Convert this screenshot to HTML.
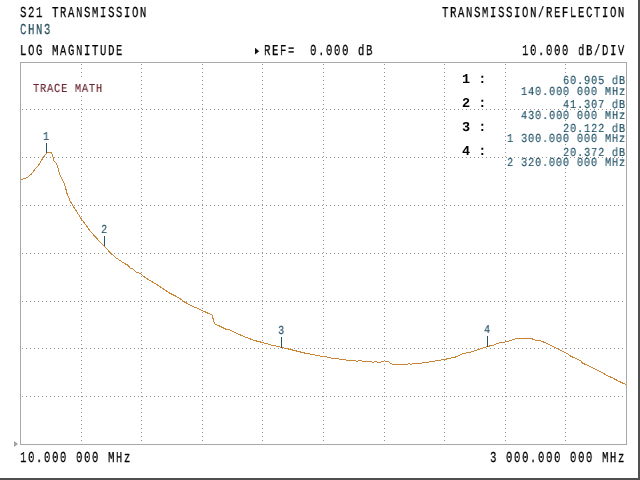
<!DOCTYPE html>
<html><head><meta charset="utf-8"><style>
html,body{margin:0;padding:0;background:#fff;width:640px;height:480px;overflow:hidden;position:relative}
.b,.s,.m{position:absolute;will-change:transform;white-space:pre;font-family:"Liberation Mono",monospace;line-height:1;text-rendering:geometricPrecision}
.b{font-size:15.2px;letter-spacing:2.31px;-webkit-text-stroke:0.25px currentColor;transform-origin:0 0;transform:scaleX(0.7);margin-top:-1px}
.s{font-size:12.2px;letter-spacing:0.915px;-webkit-text-stroke:0.15px currentColor;transform-origin:0 0;transform:scaleX(0.85);margin-top:-1px;margin-left:-1px}
.m{font-size:13.5px;font-weight:bold;color:#000}
svg{position:absolute;left:0;top:0}
</style></head><body>
<svg width="640" height="480" viewBox="0 0 640 480">
<rect x="20.5" y="62.5" width="606" height="382" fill="none" stroke="#a8a8a8" stroke-width="1" shape-rendering="crispEdges"/>
<path d="M81 64h1v1h-1zM81 68h1v1h-1zM81 72h1v1h-1zM81 76h1v1h-1zM81 80h1v1h-1zM81 84h1v1h-1zM81 88h1v1h-1zM81 92h1v1h-1zM81 96h1v1h-1zM81 100h1v1h-1zM81 104h1v1h-1zM81 108h1v1h-1zM81 112h1v1h-1zM81 116h1v1h-1zM81 120h1v1h-1zM81 124h1v1h-1zM81 128h1v1h-1zM81 132h1v1h-1zM81 136h1v1h-1zM81 140h1v1h-1zM81 144h1v1h-1zM81 148h1v1h-1zM81 152h1v1h-1zM81 156h1v1h-1zM81 160h1v1h-1zM81 164h1v1h-1zM81 168h1v1h-1zM81 172h1v1h-1zM81 176h1v1h-1zM81 180h1v1h-1zM81 184h1v1h-1zM81 188h1v1h-1zM81 192h1v1h-1zM81 196h1v1h-1zM81 200h1v1h-1zM81 204h1v1h-1zM81 208h1v1h-1zM81 212h1v1h-1zM81 216h1v1h-1zM81 220h1v1h-1zM81 224h1v1h-1zM81 228h1v1h-1zM81 232h1v1h-1zM81 236h1v1h-1zM81 240h1v1h-1zM81 244h1v1h-1zM81 248h1v1h-1zM81 252h1v1h-1zM81 256h1v1h-1zM81 260h1v1h-1zM81 264h1v1h-1zM81 268h1v1h-1zM81 272h1v1h-1zM81 276h1v1h-1zM81 280h1v1h-1zM81 284h1v1h-1zM81 288h1v1h-1zM81 292h1v1h-1zM81 296h1v1h-1zM81 300h1v1h-1zM81 304h1v1h-1zM81 308h1v1h-1zM81 312h1v1h-1zM81 316h1v1h-1zM81 320h1v1h-1zM81 324h1v1h-1zM81 328h1v1h-1zM81 332h1v1h-1zM81 336h1v1h-1zM81 340h1v1h-1zM81 344h1v1h-1zM81 348h1v1h-1zM81 352h1v1h-1zM81 356h1v1h-1zM81 360h1v1h-1zM81 364h1v1h-1zM81 368h1v1h-1zM81 372h1v1h-1zM81 376h1v1h-1zM81 380h1v1h-1zM81 384h1v1h-1zM81 388h1v1h-1zM81 392h1v1h-1zM81 396h1v1h-1zM81 400h1v1h-1zM81 404h1v1h-1zM81 408h1v1h-1zM81 412h1v1h-1zM81 416h1v1h-1zM81 420h1v1h-1zM81 424h1v1h-1zM81 428h1v1h-1zM81 432h1v1h-1zM81 436h1v1h-1zM81 440h1v1h-1zM141 64h1v1h-1zM141 68h1v1h-1zM141 72h1v1h-1zM141 76h1v1h-1zM141 80h1v1h-1zM141 84h1v1h-1zM141 88h1v1h-1zM141 92h1v1h-1zM141 96h1v1h-1zM141 100h1v1h-1zM141 104h1v1h-1zM141 108h1v1h-1zM141 112h1v1h-1zM141 116h1v1h-1zM141 120h1v1h-1zM141 124h1v1h-1zM141 128h1v1h-1zM141 132h1v1h-1zM141 136h1v1h-1zM141 140h1v1h-1zM141 144h1v1h-1zM141 148h1v1h-1zM141 152h1v1h-1zM141 156h1v1h-1zM141 160h1v1h-1zM141 164h1v1h-1zM141 168h1v1h-1zM141 172h1v1h-1zM141 176h1v1h-1zM141 180h1v1h-1zM141 184h1v1h-1zM141 188h1v1h-1zM141 192h1v1h-1zM141 196h1v1h-1zM141 200h1v1h-1zM141 204h1v1h-1zM141 208h1v1h-1zM141 212h1v1h-1zM141 216h1v1h-1zM141 220h1v1h-1zM141 224h1v1h-1zM141 228h1v1h-1zM141 232h1v1h-1zM141 236h1v1h-1zM141 240h1v1h-1zM141 244h1v1h-1zM141 248h1v1h-1zM141 252h1v1h-1zM141 256h1v1h-1zM141 260h1v1h-1zM141 264h1v1h-1zM141 268h1v1h-1zM141 272h1v1h-1zM141 276h1v1h-1zM141 280h1v1h-1zM141 284h1v1h-1zM141 288h1v1h-1zM141 292h1v1h-1zM141 296h1v1h-1zM141 300h1v1h-1zM141 304h1v1h-1zM141 308h1v1h-1zM141 312h1v1h-1zM141 316h1v1h-1zM141 320h1v1h-1zM141 324h1v1h-1zM141 328h1v1h-1zM141 332h1v1h-1zM141 336h1v1h-1zM141 340h1v1h-1zM141 344h1v1h-1zM141 348h1v1h-1zM141 352h1v1h-1zM141 356h1v1h-1zM141 360h1v1h-1zM141 364h1v1h-1zM141 368h1v1h-1zM141 372h1v1h-1zM141 376h1v1h-1zM141 380h1v1h-1zM141 384h1v1h-1zM141 388h1v1h-1zM141 392h1v1h-1zM141 396h1v1h-1zM141 400h1v1h-1zM141 404h1v1h-1zM141 408h1v1h-1zM141 412h1v1h-1zM141 416h1v1h-1zM141 420h1v1h-1zM141 424h1v1h-1zM141 428h1v1h-1zM141 432h1v1h-1zM141 436h1v1h-1zM141 440h1v1h-1zM202 64h1v1h-1zM202 68h1v1h-1zM202 72h1v1h-1zM202 76h1v1h-1zM202 80h1v1h-1zM202 84h1v1h-1zM202 88h1v1h-1zM202 92h1v1h-1zM202 96h1v1h-1zM202 100h1v1h-1zM202 104h1v1h-1zM202 108h1v1h-1zM202 112h1v1h-1zM202 116h1v1h-1zM202 120h1v1h-1zM202 124h1v1h-1zM202 128h1v1h-1zM202 132h1v1h-1zM202 136h1v1h-1zM202 140h1v1h-1zM202 144h1v1h-1zM202 148h1v1h-1zM202 152h1v1h-1zM202 156h1v1h-1zM202 160h1v1h-1zM202 164h1v1h-1zM202 168h1v1h-1zM202 172h1v1h-1zM202 176h1v1h-1zM202 180h1v1h-1zM202 184h1v1h-1zM202 188h1v1h-1zM202 192h1v1h-1zM202 196h1v1h-1zM202 200h1v1h-1zM202 204h1v1h-1zM202 208h1v1h-1zM202 212h1v1h-1zM202 216h1v1h-1zM202 220h1v1h-1zM202 224h1v1h-1zM202 228h1v1h-1zM202 232h1v1h-1zM202 236h1v1h-1zM202 240h1v1h-1zM202 244h1v1h-1zM202 248h1v1h-1zM202 252h1v1h-1zM202 256h1v1h-1zM202 260h1v1h-1zM202 264h1v1h-1zM202 268h1v1h-1zM202 272h1v1h-1zM202 276h1v1h-1zM202 280h1v1h-1zM202 284h1v1h-1zM202 288h1v1h-1zM202 292h1v1h-1zM202 296h1v1h-1zM202 300h1v1h-1zM202 304h1v1h-1zM202 308h1v1h-1zM202 312h1v1h-1zM202 316h1v1h-1zM202 320h1v1h-1zM202 324h1v1h-1zM202 328h1v1h-1zM202 332h1v1h-1zM202 336h1v1h-1zM202 340h1v1h-1zM202 344h1v1h-1zM202 348h1v1h-1zM202 352h1v1h-1zM202 356h1v1h-1zM202 360h1v1h-1zM202 364h1v1h-1zM202 368h1v1h-1zM202 372h1v1h-1zM202 376h1v1h-1zM202 380h1v1h-1zM202 384h1v1h-1zM202 388h1v1h-1zM202 392h1v1h-1zM202 396h1v1h-1zM202 400h1v1h-1zM202 404h1v1h-1zM202 408h1v1h-1zM202 412h1v1h-1zM202 416h1v1h-1zM202 420h1v1h-1zM202 424h1v1h-1zM202 428h1v1h-1zM202 432h1v1h-1zM202 436h1v1h-1zM202 440h1v1h-1zM262 64h1v1h-1zM262 68h1v1h-1zM262 72h1v1h-1zM262 76h1v1h-1zM262 80h1v1h-1zM262 84h1v1h-1zM262 88h1v1h-1zM262 92h1v1h-1zM262 96h1v1h-1zM262 100h1v1h-1zM262 104h1v1h-1zM262 108h1v1h-1zM262 112h1v1h-1zM262 116h1v1h-1zM262 120h1v1h-1zM262 124h1v1h-1zM262 128h1v1h-1zM262 132h1v1h-1zM262 136h1v1h-1zM262 140h1v1h-1zM262 144h1v1h-1zM262 148h1v1h-1zM262 152h1v1h-1zM262 156h1v1h-1zM262 160h1v1h-1zM262 164h1v1h-1zM262 168h1v1h-1zM262 172h1v1h-1zM262 176h1v1h-1zM262 180h1v1h-1zM262 184h1v1h-1zM262 188h1v1h-1zM262 192h1v1h-1zM262 196h1v1h-1zM262 200h1v1h-1zM262 204h1v1h-1zM262 208h1v1h-1zM262 212h1v1h-1zM262 216h1v1h-1zM262 220h1v1h-1zM262 224h1v1h-1zM262 228h1v1h-1zM262 232h1v1h-1zM262 236h1v1h-1zM262 240h1v1h-1zM262 244h1v1h-1zM262 248h1v1h-1zM262 252h1v1h-1zM262 256h1v1h-1zM262 260h1v1h-1zM262 264h1v1h-1zM262 268h1v1h-1zM262 272h1v1h-1zM262 276h1v1h-1zM262 280h1v1h-1zM262 284h1v1h-1zM262 288h1v1h-1zM262 292h1v1h-1zM262 296h1v1h-1zM262 300h1v1h-1zM262 304h1v1h-1zM262 308h1v1h-1zM262 312h1v1h-1zM262 316h1v1h-1zM262 320h1v1h-1zM262 324h1v1h-1zM262 328h1v1h-1zM262 332h1v1h-1zM262 336h1v1h-1zM262 340h1v1h-1zM262 344h1v1h-1zM262 348h1v1h-1zM262 352h1v1h-1zM262 356h1v1h-1zM262 360h1v1h-1zM262 364h1v1h-1zM262 368h1v1h-1zM262 372h1v1h-1zM262 376h1v1h-1zM262 380h1v1h-1zM262 384h1v1h-1zM262 388h1v1h-1zM262 392h1v1h-1zM262 396h1v1h-1zM262 400h1v1h-1zM262 404h1v1h-1zM262 408h1v1h-1zM262 412h1v1h-1zM262 416h1v1h-1zM262 420h1v1h-1zM262 424h1v1h-1zM262 428h1v1h-1zM262 432h1v1h-1zM262 436h1v1h-1zM262 440h1v1h-1zM323 64h1v1h-1zM323 68h1v1h-1zM323 72h1v1h-1zM323 76h1v1h-1zM323 80h1v1h-1zM323 84h1v1h-1zM323 88h1v1h-1zM323 92h1v1h-1zM323 96h1v1h-1zM323 100h1v1h-1zM323 104h1v1h-1zM323 108h1v1h-1zM323 112h1v1h-1zM323 116h1v1h-1zM323 120h1v1h-1zM323 124h1v1h-1zM323 128h1v1h-1zM323 132h1v1h-1zM323 136h1v1h-1zM323 140h1v1h-1zM323 144h1v1h-1zM323 148h1v1h-1zM323 152h1v1h-1zM323 156h1v1h-1zM323 160h1v1h-1zM323 164h1v1h-1zM323 168h1v1h-1zM323 172h1v1h-1zM323 176h1v1h-1zM323 180h1v1h-1zM323 184h1v1h-1zM323 188h1v1h-1zM323 192h1v1h-1zM323 196h1v1h-1zM323 200h1v1h-1zM323 204h1v1h-1zM323 208h1v1h-1zM323 212h1v1h-1zM323 216h1v1h-1zM323 220h1v1h-1zM323 224h1v1h-1zM323 228h1v1h-1zM323 232h1v1h-1zM323 236h1v1h-1zM323 240h1v1h-1zM323 244h1v1h-1zM323 248h1v1h-1zM323 252h1v1h-1zM323 256h1v1h-1zM323 260h1v1h-1zM323 264h1v1h-1zM323 268h1v1h-1zM323 272h1v1h-1zM323 276h1v1h-1zM323 280h1v1h-1zM323 284h1v1h-1zM323 288h1v1h-1zM323 292h1v1h-1zM323 296h1v1h-1zM323 300h1v1h-1zM323 304h1v1h-1zM323 308h1v1h-1zM323 312h1v1h-1zM323 316h1v1h-1zM323 320h1v1h-1zM323 324h1v1h-1zM323 328h1v1h-1zM323 332h1v1h-1zM323 336h1v1h-1zM323 340h1v1h-1zM323 344h1v1h-1zM323 348h1v1h-1zM323 352h1v1h-1zM323 356h1v1h-1zM323 360h1v1h-1zM323 364h1v1h-1zM323 368h1v1h-1zM323 372h1v1h-1zM323 376h1v1h-1zM323 380h1v1h-1zM323 384h1v1h-1zM323 388h1v1h-1zM323 392h1v1h-1zM323 396h1v1h-1zM323 400h1v1h-1zM323 404h1v1h-1zM323 408h1v1h-1zM323 412h1v1h-1zM323 416h1v1h-1zM323 420h1v1h-1zM323 424h1v1h-1zM323 428h1v1h-1zM323 432h1v1h-1zM323 436h1v1h-1zM323 440h1v1h-1zM384 64h1v1h-1zM384 68h1v1h-1zM384 72h1v1h-1zM384 76h1v1h-1zM384 80h1v1h-1zM384 84h1v1h-1zM384 88h1v1h-1zM384 92h1v1h-1zM384 96h1v1h-1zM384 100h1v1h-1zM384 104h1v1h-1zM384 108h1v1h-1zM384 112h1v1h-1zM384 116h1v1h-1zM384 120h1v1h-1zM384 124h1v1h-1zM384 128h1v1h-1zM384 132h1v1h-1zM384 136h1v1h-1zM384 140h1v1h-1zM384 144h1v1h-1zM384 148h1v1h-1zM384 152h1v1h-1zM384 156h1v1h-1zM384 160h1v1h-1zM384 164h1v1h-1zM384 168h1v1h-1zM384 172h1v1h-1zM384 176h1v1h-1zM384 180h1v1h-1zM384 184h1v1h-1zM384 188h1v1h-1zM384 192h1v1h-1zM384 196h1v1h-1zM384 200h1v1h-1zM384 204h1v1h-1zM384 208h1v1h-1zM384 212h1v1h-1zM384 216h1v1h-1zM384 220h1v1h-1zM384 224h1v1h-1zM384 228h1v1h-1zM384 232h1v1h-1zM384 236h1v1h-1zM384 240h1v1h-1zM384 244h1v1h-1zM384 248h1v1h-1zM384 252h1v1h-1zM384 256h1v1h-1zM384 260h1v1h-1zM384 264h1v1h-1zM384 268h1v1h-1zM384 272h1v1h-1zM384 276h1v1h-1zM384 280h1v1h-1zM384 284h1v1h-1zM384 288h1v1h-1zM384 292h1v1h-1zM384 296h1v1h-1zM384 300h1v1h-1zM384 304h1v1h-1zM384 308h1v1h-1zM384 312h1v1h-1zM384 316h1v1h-1zM384 320h1v1h-1zM384 324h1v1h-1zM384 328h1v1h-1zM384 332h1v1h-1zM384 336h1v1h-1zM384 340h1v1h-1zM384 344h1v1h-1zM384 348h1v1h-1zM384 352h1v1h-1zM384 356h1v1h-1zM384 360h1v1h-1zM384 364h1v1h-1zM384 368h1v1h-1zM384 372h1v1h-1zM384 376h1v1h-1zM384 380h1v1h-1zM384 384h1v1h-1zM384 388h1v1h-1zM384 392h1v1h-1zM384 396h1v1h-1zM384 400h1v1h-1zM384 404h1v1h-1zM384 408h1v1h-1zM384 412h1v1h-1zM384 416h1v1h-1zM384 420h1v1h-1zM384 424h1v1h-1zM384 428h1v1h-1zM384 432h1v1h-1zM384 436h1v1h-1zM384 440h1v1h-1zM444 64h1v1h-1zM444 68h1v1h-1zM444 72h1v1h-1zM444 76h1v1h-1zM444 80h1v1h-1zM444 84h1v1h-1zM444 88h1v1h-1zM444 92h1v1h-1zM444 96h1v1h-1zM444 100h1v1h-1zM444 104h1v1h-1zM444 108h1v1h-1zM444 112h1v1h-1zM444 116h1v1h-1zM444 120h1v1h-1zM444 124h1v1h-1zM444 128h1v1h-1zM444 132h1v1h-1zM444 136h1v1h-1zM444 140h1v1h-1zM444 144h1v1h-1zM444 148h1v1h-1zM444 152h1v1h-1zM444 156h1v1h-1zM444 160h1v1h-1zM444 164h1v1h-1zM444 168h1v1h-1zM444 172h1v1h-1zM444 176h1v1h-1zM444 180h1v1h-1zM444 184h1v1h-1zM444 188h1v1h-1zM444 192h1v1h-1zM444 196h1v1h-1zM444 200h1v1h-1zM444 204h1v1h-1zM444 208h1v1h-1zM444 212h1v1h-1zM444 216h1v1h-1zM444 220h1v1h-1zM444 224h1v1h-1zM444 228h1v1h-1zM444 232h1v1h-1zM444 236h1v1h-1zM444 240h1v1h-1zM444 244h1v1h-1zM444 248h1v1h-1zM444 252h1v1h-1zM444 256h1v1h-1zM444 260h1v1h-1zM444 264h1v1h-1zM444 268h1v1h-1zM444 272h1v1h-1zM444 276h1v1h-1zM444 280h1v1h-1zM444 284h1v1h-1zM444 288h1v1h-1zM444 292h1v1h-1zM444 296h1v1h-1zM444 300h1v1h-1zM444 304h1v1h-1zM444 308h1v1h-1zM444 312h1v1h-1zM444 316h1v1h-1zM444 320h1v1h-1zM444 324h1v1h-1zM444 328h1v1h-1zM444 332h1v1h-1zM444 336h1v1h-1zM444 340h1v1h-1zM444 344h1v1h-1zM444 348h1v1h-1zM444 352h1v1h-1zM444 356h1v1h-1zM444 360h1v1h-1zM444 364h1v1h-1zM444 368h1v1h-1zM444 372h1v1h-1zM444 376h1v1h-1zM444 380h1v1h-1zM444 384h1v1h-1zM444 388h1v1h-1zM444 392h1v1h-1zM444 396h1v1h-1zM444 400h1v1h-1zM444 404h1v1h-1zM444 408h1v1h-1zM444 412h1v1h-1zM444 416h1v1h-1zM444 420h1v1h-1zM444 424h1v1h-1zM444 428h1v1h-1zM444 432h1v1h-1zM444 436h1v1h-1zM444 440h1v1h-1zM505 64h1v1h-1zM505 68h1v1h-1zM505 72h1v1h-1zM505 76h1v1h-1zM505 80h1v1h-1zM505 84h1v1h-1zM505 88h1v1h-1zM505 92h1v1h-1zM505 96h1v1h-1zM505 100h1v1h-1zM505 104h1v1h-1zM505 108h1v1h-1zM505 112h1v1h-1zM505 116h1v1h-1zM505 120h1v1h-1zM505 124h1v1h-1zM505 128h1v1h-1zM505 132h1v1h-1zM505 136h1v1h-1zM505 140h1v1h-1zM505 144h1v1h-1zM505 148h1v1h-1zM505 152h1v1h-1zM505 156h1v1h-1zM505 160h1v1h-1zM505 164h1v1h-1zM505 168h1v1h-1zM505 172h1v1h-1zM505 176h1v1h-1zM505 180h1v1h-1zM505 184h1v1h-1zM505 188h1v1h-1zM505 192h1v1h-1zM505 196h1v1h-1zM505 200h1v1h-1zM505 204h1v1h-1zM505 208h1v1h-1zM505 212h1v1h-1zM505 216h1v1h-1zM505 220h1v1h-1zM505 224h1v1h-1zM505 228h1v1h-1zM505 232h1v1h-1zM505 236h1v1h-1zM505 240h1v1h-1zM505 244h1v1h-1zM505 248h1v1h-1zM505 252h1v1h-1zM505 256h1v1h-1zM505 260h1v1h-1zM505 264h1v1h-1zM505 268h1v1h-1zM505 272h1v1h-1zM505 276h1v1h-1zM505 280h1v1h-1zM505 284h1v1h-1zM505 288h1v1h-1zM505 292h1v1h-1zM505 296h1v1h-1zM505 300h1v1h-1zM505 304h1v1h-1zM505 308h1v1h-1zM505 312h1v1h-1zM505 316h1v1h-1zM505 320h1v1h-1zM505 324h1v1h-1zM505 328h1v1h-1zM505 332h1v1h-1zM505 336h1v1h-1zM505 340h1v1h-1zM505 344h1v1h-1zM505 348h1v1h-1zM505 352h1v1h-1zM505 356h1v1h-1zM505 360h1v1h-1zM505 364h1v1h-1zM505 368h1v1h-1zM505 372h1v1h-1zM505 376h1v1h-1zM505 380h1v1h-1zM505 384h1v1h-1zM505 388h1v1h-1zM505 392h1v1h-1zM505 396h1v1h-1zM505 400h1v1h-1zM505 404h1v1h-1zM505 408h1v1h-1zM505 412h1v1h-1zM505 416h1v1h-1zM505 420h1v1h-1zM505 424h1v1h-1zM505 428h1v1h-1zM505 432h1v1h-1zM505 436h1v1h-1zM505 440h1v1h-1zM565 64h1v1h-1zM565 68h1v1h-1zM565 72h1v1h-1zM565 76h1v1h-1zM565 80h1v1h-1zM565 84h1v1h-1zM565 88h1v1h-1zM565 92h1v1h-1zM565 96h1v1h-1zM565 100h1v1h-1zM565 104h1v1h-1zM565 108h1v1h-1zM565 112h1v1h-1zM565 116h1v1h-1zM565 120h1v1h-1zM565 124h1v1h-1zM565 128h1v1h-1zM565 132h1v1h-1zM565 136h1v1h-1zM565 140h1v1h-1zM565 144h1v1h-1zM565 148h1v1h-1zM565 152h1v1h-1zM565 156h1v1h-1zM565 160h1v1h-1zM565 164h1v1h-1zM565 168h1v1h-1zM565 172h1v1h-1zM565 176h1v1h-1zM565 180h1v1h-1zM565 184h1v1h-1zM565 188h1v1h-1zM565 192h1v1h-1zM565 196h1v1h-1zM565 200h1v1h-1zM565 204h1v1h-1zM565 208h1v1h-1zM565 212h1v1h-1zM565 216h1v1h-1zM565 220h1v1h-1zM565 224h1v1h-1zM565 228h1v1h-1zM565 232h1v1h-1zM565 236h1v1h-1zM565 240h1v1h-1zM565 244h1v1h-1zM565 248h1v1h-1zM565 252h1v1h-1zM565 256h1v1h-1zM565 260h1v1h-1zM565 264h1v1h-1zM565 268h1v1h-1zM565 272h1v1h-1zM565 276h1v1h-1zM565 280h1v1h-1zM565 284h1v1h-1zM565 288h1v1h-1zM565 292h1v1h-1zM565 296h1v1h-1zM565 300h1v1h-1zM565 304h1v1h-1zM565 308h1v1h-1zM565 312h1v1h-1zM565 316h1v1h-1zM565 320h1v1h-1zM565 324h1v1h-1zM565 328h1v1h-1zM565 332h1v1h-1zM565 336h1v1h-1zM565 340h1v1h-1zM565 344h1v1h-1zM565 348h1v1h-1zM565 352h1v1h-1zM565 356h1v1h-1zM565 360h1v1h-1zM565 364h1v1h-1zM565 368h1v1h-1zM565 372h1v1h-1zM565 376h1v1h-1zM565 380h1v1h-1zM565 384h1v1h-1zM565 388h1v1h-1zM565 392h1v1h-1zM565 396h1v1h-1zM565 400h1v1h-1zM565 404h1v1h-1zM565 408h1v1h-1zM565 412h1v1h-1zM565 416h1v1h-1zM565 420h1v1h-1zM565 424h1v1h-1zM565 428h1v1h-1zM565 432h1v1h-1zM565 436h1v1h-1zM565 440h1v1h-1zM22 109h1v1h-1zM26 109h1v1h-1zM30 109h1v1h-1zM34 109h1v1h-1zM38 109h1v1h-1zM42 109h1v1h-1zM46 109h1v1h-1zM50 109h1v1h-1zM54 109h1v1h-1zM58 109h1v1h-1zM62 109h1v1h-1zM66 109h1v1h-1zM70 109h1v1h-1zM74 109h1v1h-1zM78 109h1v1h-1zM82 109h1v1h-1zM86 109h1v1h-1zM90 109h1v1h-1zM94 109h1v1h-1zM98 109h1v1h-1zM102 109h1v1h-1zM106 109h1v1h-1zM110 109h1v1h-1zM114 109h1v1h-1zM118 109h1v1h-1zM122 109h1v1h-1zM126 109h1v1h-1zM130 109h1v1h-1zM134 109h1v1h-1zM138 109h1v1h-1zM142 109h1v1h-1zM146 109h1v1h-1zM150 109h1v1h-1zM154 109h1v1h-1zM158 109h1v1h-1zM162 109h1v1h-1zM166 109h1v1h-1zM170 109h1v1h-1zM174 109h1v1h-1zM178 109h1v1h-1zM182 109h1v1h-1zM186 109h1v1h-1zM190 109h1v1h-1zM194 109h1v1h-1zM198 109h1v1h-1zM202 109h1v1h-1zM206 109h1v1h-1zM210 109h1v1h-1zM214 109h1v1h-1zM218 109h1v1h-1zM222 109h1v1h-1zM226 109h1v1h-1zM230 109h1v1h-1zM234 109h1v1h-1zM238 109h1v1h-1zM242 109h1v1h-1zM246 109h1v1h-1zM250 109h1v1h-1zM254 109h1v1h-1zM258 109h1v1h-1zM262 109h1v1h-1zM266 109h1v1h-1zM270 109h1v1h-1zM274 109h1v1h-1zM278 109h1v1h-1zM282 109h1v1h-1zM286 109h1v1h-1zM290 109h1v1h-1zM294 109h1v1h-1zM298 109h1v1h-1zM302 109h1v1h-1zM306 109h1v1h-1zM310 109h1v1h-1zM314 109h1v1h-1zM318 109h1v1h-1zM322 109h1v1h-1zM326 109h1v1h-1zM330 109h1v1h-1zM334 109h1v1h-1zM338 109h1v1h-1zM342 109h1v1h-1zM346 109h1v1h-1zM350 109h1v1h-1zM354 109h1v1h-1zM358 109h1v1h-1zM362 109h1v1h-1zM366 109h1v1h-1zM370 109h1v1h-1zM374 109h1v1h-1zM378 109h1v1h-1zM382 109h1v1h-1zM386 109h1v1h-1zM390 109h1v1h-1zM394 109h1v1h-1zM398 109h1v1h-1zM402 109h1v1h-1zM406 109h1v1h-1zM410 109h1v1h-1zM414 109h1v1h-1zM418 109h1v1h-1zM422 109h1v1h-1zM426 109h1v1h-1zM430 109h1v1h-1zM434 109h1v1h-1zM438 109h1v1h-1zM442 109h1v1h-1zM446 109h1v1h-1zM450 109h1v1h-1zM454 109h1v1h-1zM458 109h1v1h-1zM462 109h1v1h-1zM466 109h1v1h-1zM470 109h1v1h-1zM474 109h1v1h-1zM478 109h1v1h-1zM482 109h1v1h-1zM486 109h1v1h-1zM490 109h1v1h-1zM494 109h1v1h-1zM498 109h1v1h-1zM502 109h1v1h-1zM506 109h1v1h-1zM510 109h1v1h-1zM514 109h1v1h-1zM518 109h1v1h-1zM522 109h1v1h-1zM526 109h1v1h-1zM530 109h1v1h-1zM534 109h1v1h-1zM538 109h1v1h-1zM542 109h1v1h-1zM546 109h1v1h-1zM550 109h1v1h-1zM554 109h1v1h-1zM558 109h1v1h-1zM562 109h1v1h-1zM566 109h1v1h-1zM570 109h1v1h-1zM574 109h1v1h-1zM578 109h1v1h-1zM582 109h1v1h-1zM586 109h1v1h-1zM590 109h1v1h-1zM594 109h1v1h-1zM598 109h1v1h-1zM602 109h1v1h-1zM606 109h1v1h-1zM610 109h1v1h-1zM614 109h1v1h-1zM618 109h1v1h-1zM622 109h1v1h-1zM22 157h1v1h-1zM26 157h1v1h-1zM30 157h1v1h-1zM34 157h1v1h-1zM38 157h1v1h-1zM42 157h1v1h-1zM46 157h1v1h-1zM50 157h1v1h-1zM54 157h1v1h-1zM58 157h1v1h-1zM62 157h1v1h-1zM66 157h1v1h-1zM70 157h1v1h-1zM74 157h1v1h-1zM78 157h1v1h-1zM82 157h1v1h-1zM86 157h1v1h-1zM90 157h1v1h-1zM94 157h1v1h-1zM98 157h1v1h-1zM102 157h1v1h-1zM106 157h1v1h-1zM110 157h1v1h-1zM114 157h1v1h-1zM118 157h1v1h-1zM122 157h1v1h-1zM126 157h1v1h-1zM130 157h1v1h-1zM134 157h1v1h-1zM138 157h1v1h-1zM142 157h1v1h-1zM146 157h1v1h-1zM150 157h1v1h-1zM154 157h1v1h-1zM158 157h1v1h-1zM162 157h1v1h-1zM166 157h1v1h-1zM170 157h1v1h-1zM174 157h1v1h-1zM178 157h1v1h-1zM182 157h1v1h-1zM186 157h1v1h-1zM190 157h1v1h-1zM194 157h1v1h-1zM198 157h1v1h-1zM202 157h1v1h-1zM206 157h1v1h-1zM210 157h1v1h-1zM214 157h1v1h-1zM218 157h1v1h-1zM222 157h1v1h-1zM226 157h1v1h-1zM230 157h1v1h-1zM234 157h1v1h-1zM238 157h1v1h-1zM242 157h1v1h-1zM246 157h1v1h-1zM250 157h1v1h-1zM254 157h1v1h-1zM258 157h1v1h-1zM262 157h1v1h-1zM266 157h1v1h-1zM270 157h1v1h-1zM274 157h1v1h-1zM278 157h1v1h-1zM282 157h1v1h-1zM286 157h1v1h-1zM290 157h1v1h-1zM294 157h1v1h-1zM298 157h1v1h-1zM302 157h1v1h-1zM306 157h1v1h-1zM310 157h1v1h-1zM314 157h1v1h-1zM318 157h1v1h-1zM322 157h1v1h-1zM326 157h1v1h-1zM330 157h1v1h-1zM334 157h1v1h-1zM338 157h1v1h-1zM342 157h1v1h-1zM346 157h1v1h-1zM350 157h1v1h-1zM354 157h1v1h-1zM358 157h1v1h-1zM362 157h1v1h-1zM366 157h1v1h-1zM370 157h1v1h-1zM374 157h1v1h-1zM378 157h1v1h-1zM382 157h1v1h-1zM386 157h1v1h-1zM390 157h1v1h-1zM394 157h1v1h-1zM398 157h1v1h-1zM402 157h1v1h-1zM406 157h1v1h-1zM410 157h1v1h-1zM414 157h1v1h-1zM418 157h1v1h-1zM422 157h1v1h-1zM426 157h1v1h-1zM430 157h1v1h-1zM434 157h1v1h-1zM438 157h1v1h-1zM442 157h1v1h-1zM446 157h1v1h-1zM450 157h1v1h-1zM454 157h1v1h-1zM458 157h1v1h-1zM462 157h1v1h-1zM466 157h1v1h-1zM470 157h1v1h-1zM474 157h1v1h-1zM478 157h1v1h-1zM482 157h1v1h-1zM486 157h1v1h-1zM490 157h1v1h-1zM494 157h1v1h-1zM498 157h1v1h-1zM502 157h1v1h-1zM506 157h1v1h-1zM510 157h1v1h-1zM514 157h1v1h-1zM518 157h1v1h-1zM522 157h1v1h-1zM526 157h1v1h-1zM530 157h1v1h-1zM534 157h1v1h-1zM538 157h1v1h-1zM542 157h1v1h-1zM546 157h1v1h-1zM550 157h1v1h-1zM554 157h1v1h-1zM558 157h1v1h-1zM562 157h1v1h-1zM566 157h1v1h-1zM570 157h1v1h-1zM574 157h1v1h-1zM578 157h1v1h-1zM582 157h1v1h-1zM586 157h1v1h-1zM590 157h1v1h-1zM594 157h1v1h-1zM598 157h1v1h-1zM602 157h1v1h-1zM606 157h1v1h-1zM610 157h1v1h-1zM614 157h1v1h-1zM618 157h1v1h-1zM622 157h1v1h-1zM22 205h1v1h-1zM26 205h1v1h-1zM30 205h1v1h-1zM34 205h1v1h-1zM38 205h1v1h-1zM42 205h1v1h-1zM46 205h1v1h-1zM50 205h1v1h-1zM54 205h1v1h-1zM58 205h1v1h-1zM62 205h1v1h-1zM66 205h1v1h-1zM70 205h1v1h-1zM74 205h1v1h-1zM78 205h1v1h-1zM82 205h1v1h-1zM86 205h1v1h-1zM90 205h1v1h-1zM94 205h1v1h-1zM98 205h1v1h-1zM102 205h1v1h-1zM106 205h1v1h-1zM110 205h1v1h-1zM114 205h1v1h-1zM118 205h1v1h-1zM122 205h1v1h-1zM126 205h1v1h-1zM130 205h1v1h-1zM134 205h1v1h-1zM138 205h1v1h-1zM142 205h1v1h-1zM146 205h1v1h-1zM150 205h1v1h-1zM154 205h1v1h-1zM158 205h1v1h-1zM162 205h1v1h-1zM166 205h1v1h-1zM170 205h1v1h-1zM174 205h1v1h-1zM178 205h1v1h-1zM182 205h1v1h-1zM186 205h1v1h-1zM190 205h1v1h-1zM194 205h1v1h-1zM198 205h1v1h-1zM202 205h1v1h-1zM206 205h1v1h-1zM210 205h1v1h-1zM214 205h1v1h-1zM218 205h1v1h-1zM222 205h1v1h-1zM226 205h1v1h-1zM230 205h1v1h-1zM234 205h1v1h-1zM238 205h1v1h-1zM242 205h1v1h-1zM246 205h1v1h-1zM250 205h1v1h-1zM254 205h1v1h-1zM258 205h1v1h-1zM262 205h1v1h-1zM266 205h1v1h-1zM270 205h1v1h-1zM274 205h1v1h-1zM278 205h1v1h-1zM282 205h1v1h-1zM286 205h1v1h-1zM290 205h1v1h-1zM294 205h1v1h-1zM298 205h1v1h-1zM302 205h1v1h-1zM306 205h1v1h-1zM310 205h1v1h-1zM314 205h1v1h-1zM318 205h1v1h-1zM322 205h1v1h-1zM326 205h1v1h-1zM330 205h1v1h-1zM334 205h1v1h-1zM338 205h1v1h-1zM342 205h1v1h-1zM346 205h1v1h-1zM350 205h1v1h-1zM354 205h1v1h-1zM358 205h1v1h-1zM362 205h1v1h-1zM366 205h1v1h-1zM370 205h1v1h-1zM374 205h1v1h-1zM378 205h1v1h-1zM382 205h1v1h-1zM386 205h1v1h-1zM390 205h1v1h-1zM394 205h1v1h-1zM398 205h1v1h-1zM402 205h1v1h-1zM406 205h1v1h-1zM410 205h1v1h-1zM414 205h1v1h-1zM418 205h1v1h-1zM422 205h1v1h-1zM426 205h1v1h-1zM430 205h1v1h-1zM434 205h1v1h-1zM438 205h1v1h-1zM442 205h1v1h-1zM446 205h1v1h-1zM450 205h1v1h-1zM454 205h1v1h-1zM458 205h1v1h-1zM462 205h1v1h-1zM466 205h1v1h-1zM470 205h1v1h-1zM474 205h1v1h-1zM478 205h1v1h-1zM482 205h1v1h-1zM486 205h1v1h-1zM490 205h1v1h-1zM494 205h1v1h-1zM498 205h1v1h-1zM502 205h1v1h-1zM506 205h1v1h-1zM510 205h1v1h-1zM514 205h1v1h-1zM518 205h1v1h-1zM522 205h1v1h-1zM526 205h1v1h-1zM530 205h1v1h-1zM534 205h1v1h-1zM538 205h1v1h-1zM542 205h1v1h-1zM546 205h1v1h-1zM550 205h1v1h-1zM554 205h1v1h-1zM558 205h1v1h-1zM562 205h1v1h-1zM566 205h1v1h-1zM570 205h1v1h-1zM574 205h1v1h-1zM578 205h1v1h-1zM582 205h1v1h-1zM586 205h1v1h-1zM590 205h1v1h-1zM594 205h1v1h-1zM598 205h1v1h-1zM602 205h1v1h-1zM606 205h1v1h-1zM610 205h1v1h-1zM614 205h1v1h-1zM618 205h1v1h-1zM622 205h1v1h-1zM22 253h1v1h-1zM26 253h1v1h-1zM30 253h1v1h-1zM34 253h1v1h-1zM38 253h1v1h-1zM42 253h1v1h-1zM46 253h1v1h-1zM50 253h1v1h-1zM54 253h1v1h-1zM58 253h1v1h-1zM62 253h1v1h-1zM66 253h1v1h-1zM70 253h1v1h-1zM74 253h1v1h-1zM78 253h1v1h-1zM82 253h1v1h-1zM86 253h1v1h-1zM90 253h1v1h-1zM94 253h1v1h-1zM98 253h1v1h-1zM102 253h1v1h-1zM106 253h1v1h-1zM110 253h1v1h-1zM114 253h1v1h-1zM118 253h1v1h-1zM122 253h1v1h-1zM126 253h1v1h-1zM130 253h1v1h-1zM134 253h1v1h-1zM138 253h1v1h-1zM142 253h1v1h-1zM146 253h1v1h-1zM150 253h1v1h-1zM154 253h1v1h-1zM158 253h1v1h-1zM162 253h1v1h-1zM166 253h1v1h-1zM170 253h1v1h-1zM174 253h1v1h-1zM178 253h1v1h-1zM182 253h1v1h-1zM186 253h1v1h-1zM190 253h1v1h-1zM194 253h1v1h-1zM198 253h1v1h-1zM202 253h1v1h-1zM206 253h1v1h-1zM210 253h1v1h-1zM214 253h1v1h-1zM218 253h1v1h-1zM222 253h1v1h-1zM226 253h1v1h-1zM230 253h1v1h-1zM234 253h1v1h-1zM238 253h1v1h-1zM242 253h1v1h-1zM246 253h1v1h-1zM250 253h1v1h-1zM254 253h1v1h-1zM258 253h1v1h-1zM262 253h1v1h-1zM266 253h1v1h-1zM270 253h1v1h-1zM274 253h1v1h-1zM278 253h1v1h-1zM282 253h1v1h-1zM286 253h1v1h-1zM290 253h1v1h-1zM294 253h1v1h-1zM298 253h1v1h-1zM302 253h1v1h-1zM306 253h1v1h-1zM310 253h1v1h-1zM314 253h1v1h-1zM318 253h1v1h-1zM322 253h1v1h-1zM326 253h1v1h-1zM330 253h1v1h-1zM334 253h1v1h-1zM338 253h1v1h-1zM342 253h1v1h-1zM346 253h1v1h-1zM350 253h1v1h-1zM354 253h1v1h-1zM358 253h1v1h-1zM362 253h1v1h-1zM366 253h1v1h-1zM370 253h1v1h-1zM374 253h1v1h-1zM378 253h1v1h-1zM382 253h1v1h-1zM386 253h1v1h-1zM390 253h1v1h-1zM394 253h1v1h-1zM398 253h1v1h-1zM402 253h1v1h-1zM406 253h1v1h-1zM410 253h1v1h-1zM414 253h1v1h-1zM418 253h1v1h-1zM422 253h1v1h-1zM426 253h1v1h-1zM430 253h1v1h-1zM434 253h1v1h-1zM438 253h1v1h-1zM442 253h1v1h-1zM446 253h1v1h-1zM450 253h1v1h-1zM454 253h1v1h-1zM458 253h1v1h-1zM462 253h1v1h-1zM466 253h1v1h-1zM470 253h1v1h-1zM474 253h1v1h-1zM478 253h1v1h-1zM482 253h1v1h-1zM486 253h1v1h-1zM490 253h1v1h-1zM494 253h1v1h-1zM498 253h1v1h-1zM502 253h1v1h-1zM506 253h1v1h-1zM510 253h1v1h-1zM514 253h1v1h-1zM518 253h1v1h-1zM522 253h1v1h-1zM526 253h1v1h-1zM530 253h1v1h-1zM534 253h1v1h-1zM538 253h1v1h-1zM542 253h1v1h-1zM546 253h1v1h-1zM550 253h1v1h-1zM554 253h1v1h-1zM558 253h1v1h-1zM562 253h1v1h-1zM566 253h1v1h-1zM570 253h1v1h-1zM574 253h1v1h-1zM578 253h1v1h-1zM582 253h1v1h-1zM586 253h1v1h-1zM590 253h1v1h-1zM594 253h1v1h-1zM598 253h1v1h-1zM602 253h1v1h-1zM606 253h1v1h-1zM610 253h1v1h-1zM614 253h1v1h-1zM618 253h1v1h-1zM622 253h1v1h-1zM22 301h1v1h-1zM26 301h1v1h-1zM30 301h1v1h-1zM34 301h1v1h-1zM38 301h1v1h-1zM42 301h1v1h-1zM46 301h1v1h-1zM50 301h1v1h-1zM54 301h1v1h-1zM58 301h1v1h-1zM62 301h1v1h-1zM66 301h1v1h-1zM70 301h1v1h-1zM74 301h1v1h-1zM78 301h1v1h-1zM82 301h1v1h-1zM86 301h1v1h-1zM90 301h1v1h-1zM94 301h1v1h-1zM98 301h1v1h-1zM102 301h1v1h-1zM106 301h1v1h-1zM110 301h1v1h-1zM114 301h1v1h-1zM118 301h1v1h-1zM122 301h1v1h-1zM126 301h1v1h-1zM130 301h1v1h-1zM134 301h1v1h-1zM138 301h1v1h-1zM142 301h1v1h-1zM146 301h1v1h-1zM150 301h1v1h-1zM154 301h1v1h-1zM158 301h1v1h-1zM162 301h1v1h-1zM166 301h1v1h-1zM170 301h1v1h-1zM174 301h1v1h-1zM178 301h1v1h-1zM182 301h1v1h-1zM186 301h1v1h-1zM190 301h1v1h-1zM194 301h1v1h-1zM198 301h1v1h-1zM202 301h1v1h-1zM206 301h1v1h-1zM210 301h1v1h-1zM214 301h1v1h-1zM218 301h1v1h-1zM222 301h1v1h-1zM226 301h1v1h-1zM230 301h1v1h-1zM234 301h1v1h-1zM238 301h1v1h-1zM242 301h1v1h-1zM246 301h1v1h-1zM250 301h1v1h-1zM254 301h1v1h-1zM258 301h1v1h-1zM262 301h1v1h-1zM266 301h1v1h-1zM270 301h1v1h-1zM274 301h1v1h-1zM278 301h1v1h-1zM282 301h1v1h-1zM286 301h1v1h-1zM290 301h1v1h-1zM294 301h1v1h-1zM298 301h1v1h-1zM302 301h1v1h-1zM306 301h1v1h-1zM310 301h1v1h-1zM314 301h1v1h-1zM318 301h1v1h-1zM322 301h1v1h-1zM326 301h1v1h-1zM330 301h1v1h-1zM334 301h1v1h-1zM338 301h1v1h-1zM342 301h1v1h-1zM346 301h1v1h-1zM350 301h1v1h-1zM354 301h1v1h-1zM358 301h1v1h-1zM362 301h1v1h-1zM366 301h1v1h-1zM370 301h1v1h-1zM374 301h1v1h-1zM378 301h1v1h-1zM382 301h1v1h-1zM386 301h1v1h-1zM390 301h1v1h-1zM394 301h1v1h-1zM398 301h1v1h-1zM402 301h1v1h-1zM406 301h1v1h-1zM410 301h1v1h-1zM414 301h1v1h-1zM418 301h1v1h-1zM422 301h1v1h-1zM426 301h1v1h-1zM430 301h1v1h-1zM434 301h1v1h-1zM438 301h1v1h-1zM442 301h1v1h-1zM446 301h1v1h-1zM450 301h1v1h-1zM454 301h1v1h-1zM458 301h1v1h-1zM462 301h1v1h-1zM466 301h1v1h-1zM470 301h1v1h-1zM474 301h1v1h-1zM478 301h1v1h-1zM482 301h1v1h-1zM486 301h1v1h-1zM490 301h1v1h-1zM494 301h1v1h-1zM498 301h1v1h-1zM502 301h1v1h-1zM506 301h1v1h-1zM510 301h1v1h-1zM514 301h1v1h-1zM518 301h1v1h-1zM522 301h1v1h-1zM526 301h1v1h-1zM530 301h1v1h-1zM534 301h1v1h-1zM538 301h1v1h-1zM542 301h1v1h-1zM546 301h1v1h-1zM550 301h1v1h-1zM554 301h1v1h-1zM558 301h1v1h-1zM562 301h1v1h-1zM566 301h1v1h-1zM570 301h1v1h-1zM574 301h1v1h-1zM578 301h1v1h-1zM582 301h1v1h-1zM586 301h1v1h-1zM590 301h1v1h-1zM594 301h1v1h-1zM598 301h1v1h-1zM602 301h1v1h-1zM606 301h1v1h-1zM610 301h1v1h-1zM614 301h1v1h-1zM618 301h1v1h-1zM622 301h1v1h-1zM22 348h1v1h-1zM26 348h1v1h-1zM30 348h1v1h-1zM34 348h1v1h-1zM38 348h1v1h-1zM42 348h1v1h-1zM46 348h1v1h-1zM50 348h1v1h-1zM54 348h1v1h-1zM58 348h1v1h-1zM62 348h1v1h-1zM66 348h1v1h-1zM70 348h1v1h-1zM74 348h1v1h-1zM78 348h1v1h-1zM82 348h1v1h-1zM86 348h1v1h-1zM90 348h1v1h-1zM94 348h1v1h-1zM98 348h1v1h-1zM102 348h1v1h-1zM106 348h1v1h-1zM110 348h1v1h-1zM114 348h1v1h-1zM118 348h1v1h-1zM122 348h1v1h-1zM126 348h1v1h-1zM130 348h1v1h-1zM134 348h1v1h-1zM138 348h1v1h-1zM142 348h1v1h-1zM146 348h1v1h-1zM150 348h1v1h-1zM154 348h1v1h-1zM158 348h1v1h-1zM162 348h1v1h-1zM166 348h1v1h-1zM170 348h1v1h-1zM174 348h1v1h-1zM178 348h1v1h-1zM182 348h1v1h-1zM186 348h1v1h-1zM190 348h1v1h-1zM194 348h1v1h-1zM198 348h1v1h-1zM202 348h1v1h-1zM206 348h1v1h-1zM210 348h1v1h-1zM214 348h1v1h-1zM218 348h1v1h-1zM222 348h1v1h-1zM226 348h1v1h-1zM230 348h1v1h-1zM234 348h1v1h-1zM238 348h1v1h-1zM242 348h1v1h-1zM246 348h1v1h-1zM250 348h1v1h-1zM254 348h1v1h-1zM258 348h1v1h-1zM262 348h1v1h-1zM266 348h1v1h-1zM270 348h1v1h-1zM274 348h1v1h-1zM278 348h1v1h-1zM282 348h1v1h-1zM286 348h1v1h-1zM290 348h1v1h-1zM294 348h1v1h-1zM298 348h1v1h-1zM302 348h1v1h-1zM306 348h1v1h-1zM310 348h1v1h-1zM314 348h1v1h-1zM318 348h1v1h-1zM322 348h1v1h-1zM326 348h1v1h-1zM330 348h1v1h-1zM334 348h1v1h-1zM338 348h1v1h-1zM342 348h1v1h-1zM346 348h1v1h-1zM350 348h1v1h-1zM354 348h1v1h-1zM358 348h1v1h-1zM362 348h1v1h-1zM366 348h1v1h-1zM370 348h1v1h-1zM374 348h1v1h-1zM378 348h1v1h-1zM382 348h1v1h-1zM386 348h1v1h-1zM390 348h1v1h-1zM394 348h1v1h-1zM398 348h1v1h-1zM402 348h1v1h-1zM406 348h1v1h-1zM410 348h1v1h-1zM414 348h1v1h-1zM418 348h1v1h-1zM422 348h1v1h-1zM426 348h1v1h-1zM430 348h1v1h-1zM434 348h1v1h-1zM438 348h1v1h-1zM442 348h1v1h-1zM446 348h1v1h-1zM450 348h1v1h-1zM454 348h1v1h-1zM458 348h1v1h-1zM462 348h1v1h-1zM466 348h1v1h-1zM470 348h1v1h-1zM474 348h1v1h-1zM478 348h1v1h-1zM482 348h1v1h-1zM486 348h1v1h-1zM490 348h1v1h-1zM494 348h1v1h-1zM498 348h1v1h-1zM502 348h1v1h-1zM506 348h1v1h-1zM510 348h1v1h-1zM514 348h1v1h-1zM518 348h1v1h-1zM522 348h1v1h-1zM526 348h1v1h-1zM530 348h1v1h-1zM534 348h1v1h-1zM538 348h1v1h-1zM542 348h1v1h-1zM546 348h1v1h-1zM550 348h1v1h-1zM554 348h1v1h-1zM558 348h1v1h-1zM562 348h1v1h-1zM566 348h1v1h-1zM570 348h1v1h-1zM574 348h1v1h-1zM578 348h1v1h-1zM582 348h1v1h-1zM586 348h1v1h-1zM590 348h1v1h-1zM594 348h1v1h-1zM598 348h1v1h-1zM602 348h1v1h-1zM606 348h1v1h-1zM610 348h1v1h-1zM614 348h1v1h-1zM618 348h1v1h-1zM622 348h1v1h-1zM22 396h1v1h-1zM26 396h1v1h-1zM30 396h1v1h-1zM34 396h1v1h-1zM38 396h1v1h-1zM42 396h1v1h-1zM46 396h1v1h-1zM50 396h1v1h-1zM54 396h1v1h-1zM58 396h1v1h-1zM62 396h1v1h-1zM66 396h1v1h-1zM70 396h1v1h-1zM74 396h1v1h-1zM78 396h1v1h-1zM82 396h1v1h-1zM86 396h1v1h-1zM90 396h1v1h-1zM94 396h1v1h-1zM98 396h1v1h-1zM102 396h1v1h-1zM106 396h1v1h-1zM110 396h1v1h-1zM114 396h1v1h-1zM118 396h1v1h-1zM122 396h1v1h-1zM126 396h1v1h-1zM130 396h1v1h-1zM134 396h1v1h-1zM138 396h1v1h-1zM142 396h1v1h-1zM146 396h1v1h-1zM150 396h1v1h-1zM154 396h1v1h-1zM158 396h1v1h-1zM162 396h1v1h-1zM166 396h1v1h-1zM170 396h1v1h-1zM174 396h1v1h-1zM178 396h1v1h-1zM182 396h1v1h-1zM186 396h1v1h-1zM190 396h1v1h-1zM194 396h1v1h-1zM198 396h1v1h-1zM202 396h1v1h-1zM206 396h1v1h-1zM210 396h1v1h-1zM214 396h1v1h-1zM218 396h1v1h-1zM222 396h1v1h-1zM226 396h1v1h-1zM230 396h1v1h-1zM234 396h1v1h-1zM238 396h1v1h-1zM242 396h1v1h-1zM246 396h1v1h-1zM250 396h1v1h-1zM254 396h1v1h-1zM258 396h1v1h-1zM262 396h1v1h-1zM266 396h1v1h-1zM270 396h1v1h-1zM274 396h1v1h-1zM278 396h1v1h-1zM282 396h1v1h-1zM286 396h1v1h-1zM290 396h1v1h-1zM294 396h1v1h-1zM298 396h1v1h-1zM302 396h1v1h-1zM306 396h1v1h-1zM310 396h1v1h-1zM314 396h1v1h-1zM318 396h1v1h-1zM322 396h1v1h-1zM326 396h1v1h-1zM330 396h1v1h-1zM334 396h1v1h-1zM338 396h1v1h-1zM342 396h1v1h-1zM346 396h1v1h-1zM350 396h1v1h-1zM354 396h1v1h-1zM358 396h1v1h-1zM362 396h1v1h-1zM366 396h1v1h-1zM370 396h1v1h-1zM374 396h1v1h-1zM378 396h1v1h-1zM382 396h1v1h-1zM386 396h1v1h-1zM390 396h1v1h-1zM394 396h1v1h-1zM398 396h1v1h-1zM402 396h1v1h-1zM406 396h1v1h-1zM410 396h1v1h-1zM414 396h1v1h-1zM418 396h1v1h-1zM422 396h1v1h-1zM426 396h1v1h-1zM430 396h1v1h-1zM434 396h1v1h-1zM438 396h1v1h-1zM442 396h1v1h-1zM446 396h1v1h-1zM450 396h1v1h-1zM454 396h1v1h-1zM458 396h1v1h-1zM462 396h1v1h-1zM466 396h1v1h-1zM470 396h1v1h-1zM474 396h1v1h-1zM478 396h1v1h-1zM482 396h1v1h-1zM486 396h1v1h-1zM490 396h1v1h-1zM494 396h1v1h-1zM498 396h1v1h-1zM502 396h1v1h-1zM506 396h1v1h-1zM510 396h1v1h-1zM514 396h1v1h-1zM518 396h1v1h-1zM522 396h1v1h-1zM526 396h1v1h-1zM530 396h1v1h-1zM534 396h1v1h-1zM538 396h1v1h-1zM542 396h1v1h-1zM546 396h1v1h-1zM550 396h1v1h-1zM554 396h1v1h-1zM558 396h1v1h-1zM562 396h1v1h-1zM566 396h1v1h-1zM570 396h1v1h-1zM574 396h1v1h-1zM578 396h1v1h-1zM582 396h1v1h-1zM586 396h1v1h-1zM590 396h1v1h-1zM594 396h1v1h-1zM598 396h1v1h-1zM602 396h1v1h-1zM606 396h1v1h-1zM610 396h1v1h-1zM614 396h1v1h-1zM618 396h1v1h-1zM622 396h1v1h-1z" fill="#929292" shape-rendering="crispEdges"/>
<path d="M20.50 179.25 L22.75 179.25 L25.00 178.31 L27.25 177.37 L29.12 175.87 L31.00 174.37 L32.50 172.69 L34.37 169.87 L35.50 168.19 L38.00 166.25 L40.50 161.90 L43.00 157.75 L46.10 154.00 L48.00 152.25 L50.00 152.08 L51.56 153.12 L53.12 157.29 L53.65 160.42 L56.25 163.54 L57.81 167.19 L59.38 173.96 L61.46 178.12 L64.06 183.33 L65.62 187.50 L66.67 192.71 L69.27 198.96 L69.40 200.00 L72.50 205.00 L76.90 211.90 L81.25 218.75 L86.25 225.60 L90.00 230.80 L93.10 234.40 L96.70 238.30 L100.00 241.88 L104.38 246.25 L110.00 252.50 L116.25 258.12 L120.00 260.42 L123.65 263.02 L127.81 265.10 L130.42 268.23 L133.54 269.27 L136.67 272.40 L140.31 273.44 L143.96 276.56 L150.21 280.73 L156.46 284.38 L162.71 288.54 L168.96 292.71 L175.21 295.83 L180.00 298.44 L183.12 301.25 L191.25 305.62 L202.50 310.62 L211.88 315.00 L213.12 318.75 L214.38 323.75 L220.00 326.25 L226.25 329.38 L230.00 330.00 L237.50 333.75 L246.25 337.50 L255.00 340.62 L262.50 342.50 L271.25 345.00 L281.25 347.25 L290.00 349.38 L300.00 351.88 L305.00 353.12 L310.00 354.00 L315.00 355.00 L321.25 356.25 L326.25 356.88 L331.25 358.12 L338.75 359.00 L347.50 360.25 L355.00 360.62 L356.50 361.50 L358.50 360.62 L363.75 361.25 L371.25 361.50 L373.12 362.75 L375.00 361.25 L377.50 362.25 L380.00 362.25 L384.38 361.00 L388.12 361.25 L391.25 363.75 L393.75 364.38 L407.50 364.38 L409.38 363.50 L411.25 364.50 L413.12 363.50 L421.25 363.12 L430.00 361.88 L437.50 360.62 L445.00 359.38 L450.00 358.12 L455.00 357.25 L462.50 353.75 L471.25 351.88 L480.00 349.00 L487.50 346.50 L493.75 345.00 L500.00 342.50 L506.25 341.88 L510.00 340.62 L516.25 338.50 L531.25 338.50 L535.00 340.00 L540.00 340.60 L546.25 343.10 L553.75 346.90 L561.25 350.60 L567.50 353.75 L571.25 356.50 L575.00 358.10 L577.50 359.40 L580.60 360.60 L582.50 363.10 L586.25 364.75 L592.50 367.75 L598.75 371.00 L603.75 373.50 L606.25 375.40 L611.25 377.25 L617.50 380.60 L625.60 384.40" fill="none" stroke="#c98538" stroke-width="1" stroke-linejoin="round" shape-rendering="crispEdges"/>
<path d="M46.5 143V153" stroke="#235468" stroke-width="1"/><path d="M104.5 236V246" stroke="#235468" stroke-width="1"/><path d="M281.5 337V348" stroke="#235468" stroke-width="1"/><path d="M487.5 336V347" stroke="#235468" stroke-width="1"/>
<path d="M14 441L18 444L14 447Z" fill="#a0a0a0"/>
<path d="M255 47.8L259.2 51.2L255 54.6Z" fill="#111"/>
<rect x="638" y="0" width="2" height="480" fill="#505050"/>
<rect x="0" y="478" width="640" height="2" fill="#505050"/>
</svg>
<div class="b" style="left:20px;top:7px;color:#000000">S21 TRANSMISSION</div><div class="b" style="left:442px;top:7px;color:#000000">TRANSMISSION/REFLECTION</div><div class="b" style="left:20px;top:24px;color:#2c5060">CHN3</div><div class="b" style="left:20px;top:45px;color:#000000">LOG MAGNITUDE</div><div class="b" style="left:264px;top:45px;color:#000000">REF=</div><div class="b" style="left:310px;top:45px;color:#000000">0.000 dB</div><div class="b" style="left:522px;top:45px;color:#000000">10.000 dB/DIV</div><div class="b" style="left:20px;top:452px;color:#000000">10.000 000 MHz</div><div class="b" style="left:490px;top:452px;color:#000000">3 000.000 000 MHz</div><div style="position:absolute;left:34px;top:80px;width:70px;height:13px;background:#fff"></div><div class="s" style="left:34px;top:84px;color:#6a2430">TRACE MATH</div><div style="position:absolute;left:564px;top:76px;width:62px;height:9px;background:#fff"></div><div class="s" style="left:564px;top:76px;color:#235468">60.905 dB</div><div style="position:absolute;left:522px;top:87px;width:104px;height:9px;background:#fff"></div><div class="s" style="left:522px;top:87px;color:#235468">140.000 000 MHz</div><div style="position:absolute;left:564px;top:100px;width:62px;height:9px;background:#fff"></div><div class="s" style="left:564px;top:100px;color:#235468">41.307 dB</div><div style="position:absolute;left:522px;top:111px;width:104px;height:9px;background:#fff"></div><div class="s" style="left:522px;top:111px;color:#235468">430.000 000 MHz</div><div style="position:absolute;left:564px;top:124px;width:62px;height:9px;background:#fff"></div><div class="s" style="left:564px;top:124px;color:#235468">20.122 dB</div><div style="position:absolute;left:508px;top:134px;width:118px;height:9px;background:#fff"></div><div class="s" style="left:508px;top:134px;color:#235468">1 300.000 000 MHz</div><div style="position:absolute;left:564px;top:148px;width:62px;height:9px;background:#fff"></div><div class="s" style="left:564px;top:148px;color:#235468">20.372 dB</div><div style="position:absolute;left:508px;top:158px;width:118px;height:9px;background:#fff"></div><div class="s" style="left:508px;top:158px;color:#235468">2 320.000 000 MHz</div><div class="m" style="left:462px;top:74px">1 :</div><div class="m" style="left:462px;top:98px">2 :</div><div class="m" style="left:462px;top:122px">3 :</div><div class="m" style="left:462px;top:146px">4 :</div><div class="s" style="left:44px;top:132px;color:#235468">1</div><div class="s" style="left:102px;top:225px;color:#235468">2</div><div class="s" style="left:279px;top:326px;color:#235468">3</div><div class="s" style="left:485px;top:325px;color:#235468">4</div>
</body></html>
